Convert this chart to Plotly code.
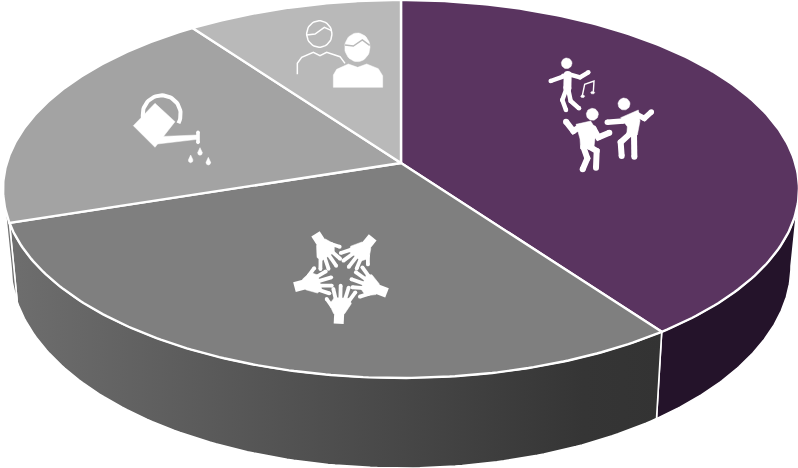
import numpy as np
import plotly.graph_objects as go

# Slice shares, clockwise from twelve o'clock
slice_names = ["Dance", "Community", "Gardening", "Friends"]
slice_shares = [40, 30, 20, 10]
top_colors = ["#5a3460", "#7f7f7f", "#a3a3a3", "#b9b9b9"]
wall_scales = [
    [[0, "#24132a"], [1, "#24132a"]],
    [[0, "#6e6e6e"], [0.88, "#353535"], [1, "#333333"]],
    [[0, "#7a7a7a"], [1, "#6a6a6a"]],
    [[0, "#8a8a8a"], [1, "#8a8a8a"]],
]

W, H = 798, 468
CX, CY, SX, SY, TILT = 401.0, 163.0, 394.2, 185.4, 0.1376  # top face of the disc
BASE_CY, BASE_X, BASE_Y = 238.0, 0.98, 1.07                # lower rim relative to it
WALL_START, WALL_END = 98.0, 262.0                         # visible part of the rim, degrees


def rim(deg, lower=False):
    t = np.radians(deg)
    x, y = np.sin(t), -np.cos(t)
    w = 1 - TILT * y
    if lower:
        return CX + BASE_X * SX * x / w, BASE_CY + BASE_Y * SY * y / w
    return CX + SX * x / w, CY + SY * y / w


fig = go.Figure()
edges = np.cumsum([0] + slice_shares) / sum(slice_shares) * 360

# Side wall of the disc goes underneath the top faces
for i, name in enumerate(slice_names):
    a, b = max(edges[i], WALL_START), min(edges[i + 1], WALL_END)
    if a >= b:
        continue
    deg = np.linspace(a, b, 120)
    tx, ty = rim(deg)
    bx, by = rim(deg[::-1], lower=True)
    fig.add_trace(go.Scatter(
        x=np.r_[tx, bx, tx[0]], y=np.r_[ty, by, ty[0]], mode="lines", name=name,
        fill="toself", line=dict(color="white", width=1.6), hoverinfo="skip",
        fillgradient=dict(type="horizontal", colorscale=wall_scales[i]),
    ))

# Top faces
for i, name in enumerate(slice_names):
    deg = np.linspace(edges[i], edges[i + 1], 160)
    ax, ay = rim(deg)
    fig.add_trace(go.Scatter(
        x=np.r_[CX, ax, CX], y=np.r_[CY, ay, CY], mode="lines", name=name,
        fill="toself", fillcolor=top_colors[i],
        line=dict(color="white", width=2.4), hoverinfo="skip",
    ))


# Pictogram helpers; each pictogram is sketched on a 3x grid around its own origin
def to_px(points, origin, scale=1 / 3):
    p = np.asarray(points, dtype=float)
    return origin[0] + p[:, 0] * scale, origin[1] + p[:, 1] * scale


def stroke(points, origin, width, color="white", caps=True):
    x, y = to_px(points, origin)
    fig.add_trace(go.Scatter(
        x=x, y=y, mode="lines+markers" if caps else "lines", hoverinfo="skip",
        line=dict(color=color, width=width),
        marker=dict(color=color, size=width, line=dict(width=0)),
    ))


def blob(points, origin, color="white"):
    x, y = to_px(points, origin)
    fig.add_trace(go.Scatter(
        x=np.r_[x, x[0]], y=np.r_[y, y[0]], mode="lines", fill="toself",
        fillcolor=color, line=dict(color=color, width=0.5), hoverinfo="skip",
    ))


def oval(c, rx, ry, a0=0, a1=360, n=48):
    t = np.radians(np.linspace(a0, a1, n))
    return np.c_[c[0] + rx * np.cos(t), c[1] + ry * np.sin(t)]


# Dancers
DANCE = (530, 45)
blob(oval((110, 55), 16, 16), DANCE)
stroke([(113, 90), (112, 130)], DANCE, 8)
stroke([(62, 108), (100, 92), (118, 88), (150, 97), (175, 82)], DANCE, 4.5)
stroke([(110, 130), (97, 165), (108, 195)], DANCE, 4.5)
stroke([(114, 130), (122, 168), (147, 190)], DANCE, 4.5)
stroke([(157, 152), (164, 118), (192, 108), (190, 140)], DANCE, 1.4, caps=False)
blob(oval((158, 154), 6, 4), DANCE)
blob(oval((188, 143), 6, 4), DANCE)

blob(oval((187, 208), 18, 18), DANCE)
blob([(138, 238), (182, 228), (196, 250), (196, 272), (192, 305), (152, 312), (150, 282)], DANCE)
stroke([(108, 230), (130, 258), (150, 245)], DANCE, 6)
stroke([(190, 250), (205, 277), (238, 263)], DANCE, 6)
stroke([(160, 305), (172, 340), (158, 373)], DANCE, 6)
stroke([(178, 305), (200, 318), (198, 368)], DANCE, 6)

blob(oval((282, 177), 18, 18), DANCE)
blob([(272, 218), (325, 195), (330, 228), (322, 270), (290, 272), (292, 245)], DANCE)
stroke([(232, 232), (280, 228)], DANCE, 5.5)
stroke([(320, 208), (343, 220), (364, 201)], DANCE, 5.5)
stroke([(298, 268), (272, 292), (275, 333)], DANCE, 6)
stroke([(312, 268), (313, 335)], DANCE, 6)

# Ring of five hands, one outline turned around the shared centre
HANDS = (280, 225)
HUB = np.array([185.0, 150.0])
for turn in (0, 72, 144, 216, 288):
    r = np.radians(turn)
    rot = np.array([[np.cos(r), -np.sin(r)], [np.sin(r), np.cos(r)]])
    place = lambda pts: (np.asarray(pts, float) - HUB) @ rot.T + HUB
    stroke(place([(176, 296), (178, 258)]), HANDS, 10, caps=False)
    blob(place([(161, 266), (148, 238), (163, 218), (208, 220), (214, 236), (194, 266)]), HANDS)
    stroke(place([(156, 244), (140, 222)]), HANDS, 3.8)
    stroke(place([(168, 226), (160, 192)]), HANDS, 3.8)
    stroke(place([(181, 224), (182, 182)]), HANDS, 3.8)
    stroke(place([(194, 226), (206, 188)]), HANDS, 3.8)
    stroke(place([(204, 232), (226, 202)]), HANDS, 3.8)

# Watering can
CAN = (120, 85)
stroke(oval((125, 88), 57, 57, 150, 388), CAN, 4, caps=False)
blob([(40, 122), (105, 55), (165, 110), (105, 187)], CAN)
blob([(110, 155), (232, 150), (232, 163), (112, 177)], CAN)
stroke([(234, 142), (234, 172)], CAN, 3.6)
for drop in [(240, 204), (212, 226), (265, 233)]:
    blob(np.r_[oval(drop, 7, 7, -10, 190), [(drop[0], drop[1] - 16)]], CAN)

# Two people, one outlined and one solid
PEOPLE = (285, 10)
stroke(oval((103, 72), 38, 40), PEOPLE, 1.5, caps=False)
stroke([(65, 75), (90, 72), (118, 52), (140, 62)], PEOPLE, 1.5, caps=False)
stroke([(37, 193), (37, 160), (50, 142), (85, 127), (105, 137), (125, 127),
        (165, 140), (180, 160)], PEOPLE, 1.5, caps=False)
blob(oval((217, 112), 38, 43), PEOPLE)
stroke([(180, 105), (205, 108), (232, 90), (254, 106)], PEOPLE, 1.5, color=top_colors[3], caps=False)
blob([(145, 232), (145, 195), (155, 178), (190, 162), (218, 172), (245, 162), (280, 176),
      (293, 197), (293, 232)], PEOPLE)

fig.update_layout(
    width=W, height=H, margin=dict(l=0, r=0, t=0, b=0), showlegend=False,
    paper_bgcolor="white", plot_bgcolor="white",
    xaxis=dict(range=[0, W], visible=False, fixedrange=True),
    yaxis=dict(range=[H, 0], visible=False, fixedrange=True),
)
fig.write_html("out.html", config=dict(displayModeBar=False))
